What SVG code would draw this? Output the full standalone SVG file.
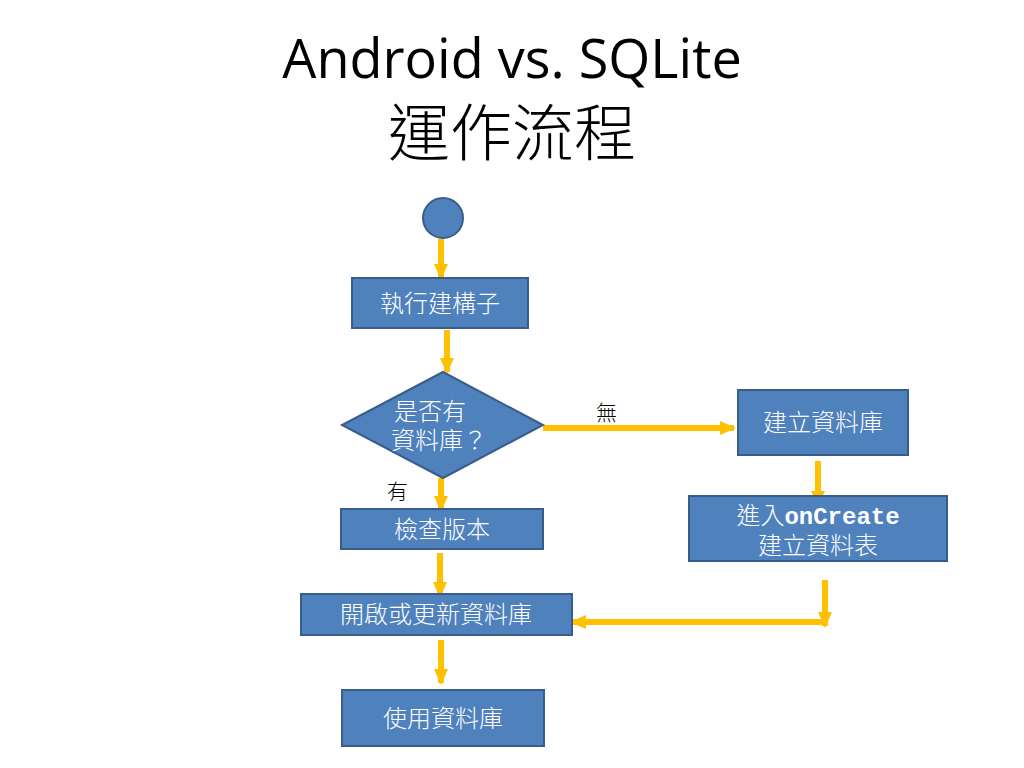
<svg xmlns="http://www.w3.org/2000/svg" width="1024" height="768" viewBox="0 0 1024 768">
<style>
.node{fill:#4F81BD;stroke:#385D8A;stroke-width:2}
.lbl{fill:#FFFFFF;font-family:"Noto Sans CJK TC","Noto Sans CJK SC",sans-serif;font-weight:300;font-size:24px;text-anchor:middle}
.blk{fill:#000000;font-family:"Noto Sans CJK TC",sans-serif;font-weight:300;font-size:21px}
.mono{font-family:"Liberation Mono",monospace;font-weight:bold}
.conn{stroke:#FFC000;stroke-width:6;fill:none}
</style>
<defs>
<marker id="ah" markerUnits="userSpaceOnUse" markerWidth="16" markerHeight="14" viewBox="0 0 16 14" refX="14" refY="7" orient="auto">
<path d="M0,0 L16,7 L0,14 Z" fill="#FFC000"/>
</marker>
</defs>
<rect width="1024" height="768" fill="#FFFFFF"/>
<g id="title">
<text x="512" y="78" text-anchor="middle" font-family="'Open Sans','Liberation Sans',sans-serif" font-size="54" fill="#000">Android vs. SQLite</text>
<text x="512" y="156" text-anchor="middle" font-family="'Noto Sans CJK TC',serif" font-weight="300" font-size="62" fill="#000">運作流程</text>
</g>
<g id="connectors">
<line class="conn" x1="441" y1="239" x2="441" y2="278" marker-end="url(#ah)"/>
<line class="conn" x1="447" y1="330" x2="447" y2="372" marker-end="url(#ah)"/>
<line class="conn" x1="543" y1="428" x2="734" y2="428" marker-end="url(#ah)"/>
<line class="conn" x1="818" y1="461" x2="818" y2="505" marker-end="url(#ah)"/>
<line class="conn" x1="441" y1="478" x2="441" y2="510" marker-end="url(#ah)"/>
<line class="conn" x1="440" y1="553" x2="440" y2="596" marker-end="url(#ah)"/>
<line class="conn" x1="825" y1="580" x2="825" y2="626" marker-end="url(#ah)"/>
<line class="conn" x1="828" y1="622" x2="572" y2="622" marker-end="url(#ah)"/>
<line class="conn" x1="441" y1="640" x2="441" y2="683" marker-end="url(#ah)"/>
<text class="blk" x="596" y="420">無</text>
<text class="blk" x="387" y="499">有</text>
</g>
<g id="start">
<circle class="node" cx="443" cy="218" r="20"/>
</g>
<g id="constructor">
<rect class="node" x="352" y="278" width="176" height="50"/>
<text class="lbl" x="440" y="312">執行建構子</text>
</g>
<g id="decision">
<polygon class="node" points="443,372 543,425 443,478 342,425"/>
<text class="lbl" x="394" y="420" style="text-anchor:start">是否有</text>
<text class="lbl" x="391" y="449" style="text-anchor:start">資料庫？</text>
</g>
<g id="createdb">
<rect class="node" x="738" y="390" width="170" height="65"/>
<text class="lbl" x="823" y="431">建立資料庫</text>
</g>
<g id="oncreate">
<rect class="node" x="689" y="496" width="258" height="65"/>
<text class="lbl" x="818" y="524">進入<tspan class="mono">onCreate</tspan></text>
<text class="lbl" x="818" y="554">建立資料表</text>
</g>
<g id="checkversion">
<rect class="node" x="341" y="509" width="202" height="40"/>
<text class="lbl" x="442" y="538">檢查版本</text>
</g>
<g id="openupdate">
<rect class="node" x="301" y="594" width="271" height="41"/>
<text class="lbl" x="436" y="623">開啟或更新資料庫</text>
</g>
<g id="usedb">
<rect class="node" x="342" y="690" width="202" height="56"/>
<text class="lbl" x="443" y="727">使用資料庫</text>
</g>
</svg>
